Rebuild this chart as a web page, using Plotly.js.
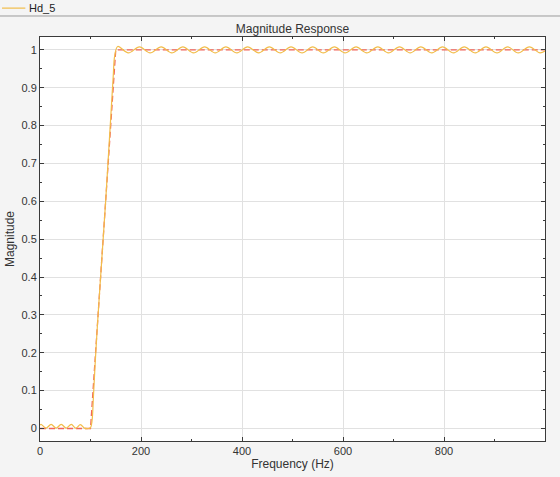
<!DOCTYPE html>
<html><head><meta charset="utf-8">
<script src="https://cdn.plot.ly/plotly-3.0.1.min.js"></script>
<style>html,body{margin:0;padding:0;background:#f4f4f4;}#plot{width:560px;height:477px;}</style>
</head><body><div id="plot"></div>
<script>
// Hd_5 magnitude response (estimated from reference)
const freqHz = [0, 2, 12, 22, 32, 42, 52, 62, 71, 80, 88, 96, 100, 103, 106, 110, 115, 120, 125, 130, 135, 140, 145, 148,
  154, 175, 197, 218, 240, 261, 283, 304, 326, 347, 368, 390, 411, 433, 454, 476, 497, 519, 540, 561, 583, 604, 626, 647,
  669, 690, 712, 733, 754, 776, 797, 819, 840, 862, 883, 905, 926, 947, 969, 990, 1000];
const magnitude = [0.009, 0.011, 0.001, 0.011, 0.001, 0.011, 0.001, 0.011, 0.001, 0.010, 0.001, 0.000, 0.002, 0.02, 0.09, 0.19, 0.30, 0.40, 0.50, 0.60, 0.71, 0.82, 0.93, 0.985,
  1.009, 0.992, 1.008, 0.992, 1.008, 0.992, 1.008, 0.992, 1.008, 0.992, 1.008, 0.992, 1.008, 0.992, 1.008, 0.992, 1.008, 0.992, 1.008, 0.992, 1.008, 0.992, 1.008, 0.992,
  1.008, 0.992, 1.008, 0.992, 1.008, 0.992, 1.008, 0.992, 1.008, 0.992, 1.008, 0.992, 1.008, 0.992, 1.008, 0.992, 0.997];
// ideal (mask) response
const maskFreq = [0, 100, 150, 1000];
const maskMag = [0, 0, 1, 1];
const xTicks = [0, 200, 400, 600, 800];
const xMinor = [100, 300, 500, 700, 900];
const yTicks = [0, 0.1, 0.2, 0.3, 0.4, 0.5, 0.6, 0.7, 0.8, 0.9, 1];
const yTickText = ['0', '0.1', '0.2', '0.3', '0.4', '0.5', '0.6', '0.7', '0.8', '0.9', '1'];
const legendName = 'Hd_5';

const font = 'Liberation Sans, Arial, sans-serif';
const lineColor = '#f2bd4a';
const traces = [
  {x: maskFreq, y: maskMag, type: 'scatter', mode: 'lines', showlegend: false,
   line: {color: '#f2645a', width: 1.3, dash: '6px,3px'}, hoverinfo: 'skip'},
  {x: freqHz, y: magnitude, type: 'scatter', mode: 'lines', name: legendName, showlegend: false,
   line: {color: lineColor, width: 1.2, shape: 'spline', smoothing: 1}}
];
const axisCommon = {
  showline: true, linecolor: '#3a3a3a', linewidth: 1, mirror: 'allticks',
  ticks: 'inside', ticklen: 4, tickcolor: '#3a3a3a', zeroline: false,
  showgrid: true, gridcolor: '#e1e1e1', gridwidth: 1,
  tickfont: {family: font, size: 11, color: '#333'}
};
const layout = {
  width: 560, height: 477,
  paper_bgcolor: '#f4f4f4', plot_bgcolor: '#ffffff',
  margin: {l: 40, r: 15, t: 37, b: 36},
  showlegend: false,
  title: {text: 'Magnitude Response', x: 0.5, xref: 'paper', y: 1, yref: 'paper', yanchor: 'bottom',
    pad: {b: 4}, font: {family: font, size: 12, color: '#333'}},
  xaxis: Object.assign({}, axisCommon, {
    range: [0, 1000], tickmode: 'array', tickvals: xTicks,
    minor: {tickvals: xMinor, ticks: 'inside', ticklen: 2, tickcolor: '#3a3a3a', showgrid: false},
    title: {text: 'Frequency (Hz)', standoff: 3, font: {family: font, size: 12, color: '#333'}}
  }),
  yaxis: Object.assign({}, axisCommon, {
    range: [-0.033, 1.034], tickmode: 'array', tickvals: yTicks, ticktext: yTickText,
    minor: {dtick: 0.05, tick0: 0.05, ticks: 'inside', ticklen: 2, tickcolor: '#3a3a3a', showgrid: false},
    title: {text: 'Magnitude', standoff: 4, font: {family: font, size: 12, color: '#333'}}
  }),
  shapes: [
    {type: 'line', xref: 'paper', yref: 'paper', x0: -0.08, x1: 1.03, y0: 1.052, y1: 1.052,
     line: {color: '#9a9a9a', width: 1}},
    {type: 'line', xref: 'paper', yref: 'paper', x0: -0.0752, x1: -0.029, y0: 1.0715, y1: 1.0715,
     line: {color: lineColor, width: 1.2}}
  ],
  annotations: [
    {text: legendName, xref: 'paper', yref: 'paper', x: -0.025, y: 1.0715, xanchor: 'left', yanchor: 'middle',
     showarrow: false, font: {family: font, size: 11, color: '#222'}}
  ]
};
Plotly.newPlot('plot', traces, layout, {displayModeBar: false, staticPlot: true});
</script></body></html>
